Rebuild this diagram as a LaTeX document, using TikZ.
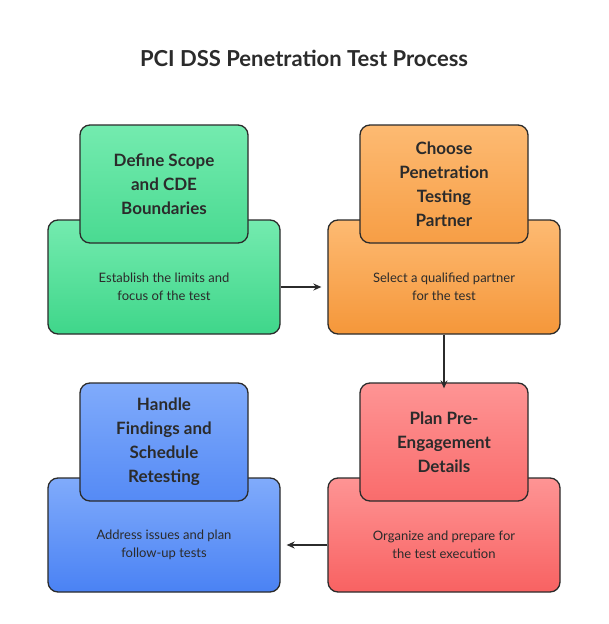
\documentclass[tikz,border=0pt]{standalone}
\usepackage{fontspec}
\setmainfont{Lato}
\usetikzlibrary{arrows.meta}
\definecolor{gA}{HTML}{74EBAF}\definecolor{gB}{HTML}{3FD68A}
\definecolor{oA}{HTML}{FDBA72}\definecolor{oB}{HTML}{F5973A}
\definecolor{rA}{HTML}{FE9494}\definecolor{rB}{HTML}{F86262}
\definecolor{bA}{HTML}{80ABFB}\definecolor{bB}{HTML}{4A82F4}
\definecolor{ink}{HTML}{2B2B2B}
\tikzset{
 card/.style={draw=ink,line width=1.3pt,rounded corners=10pt,minimum width=232pt,minimum height=114pt,inner sep=0pt},
 headbox/.style={draw=ink,line width=1.3pt,rounded corners=10pt,minimum width=168pt,minimum height=118pt,inner sep=0pt,font=\bfseries\fontsize{17}{24}\selectfont,align=center,text=ink},
 body/.style={font=\fontsize{13}{18}\selectfont,align=center,text=ink},
 conn/.style={draw=ink,line width=1.2pt,-{Stealth[length=8pt,width=7pt]}}
}
\begin{document}
\begin{tikzpicture}[x=1pt,y=-1pt]
\useasboundingbox[fill=white] (0,0) rectangle (608,624);
\node[font=\bfseries\fontsize{22}{26}\selectfont,text=ink] (title) at (304,58) {PCI DSS Penetration Test Process};
% cards
\node[card,top color=gA,bottom color=gB] (o1) at (164,277) {};
\node[card,top color=oA,bottom color=oB] (o2) at (444,277) {};
\node[card,top color=rA,bottom color=rB] (o3) at (444,535) {};
\node[card,top color=bA,bottom color=bB] (o4) at (164,535) {};
\node[headbox,top color=gA,bottom color=gB!80!gA] (c1) at (164,184) {Define Scope\\and CDE\\Boundaries};
\node[headbox,top color=oA,bottom color=oB!80!oA] (c2) at (444,184) {Choose\\Penetration\\Testing\\Partner};
\node[headbox,top color=rA,bottom color=rB!80!rA] (c3) at (444,442) {Plan Pre-\\Engagement\\Details};
\node[headbox,top color=bA,bottom color=bB!80!bA] (c4) at (164,442) {Handle\\Findings and\\Schedule\\Retesting};
\node[body] (t1) at (164,287) {Establish the limits and\\focus of the test};
\node[body] (t2) at (444,287) {Select a qualified partner\\for the test};
\node[body] (t3) at (444,545) {Organize and prepare for\\the test execution};
\node[body] (t4) at (164,545) {Address issues and plan\\follow-up tests};
\draw[conn] (o1.east|-t1) -- ([xshift=-6pt]o2.west|-t2);
\draw[conn] (o2.south) -- ([yshift=-6pt]c3.north);
\draw[conn] (o3.west|-t3) -- ([xshift=6pt]o4.east|-t4);
\end{tikzpicture}
\end{document}
